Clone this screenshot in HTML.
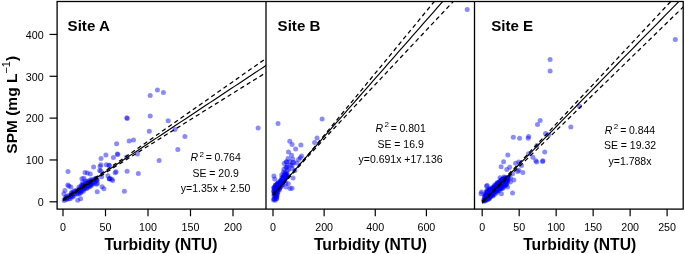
<!DOCTYPE html><html><head><meta charset="utf-8"><style>html,body{margin:0;padding:0;background:#fff;}svg{display:block;}text{font-family:"Liberation Sans",Arial,sans-serif;}</style></head><body>
<svg width="685" height="254" viewBox="0 0 685 254">
<rect width="685" height="254" fill="#fff"/>
<clipPath id="cA"><rect x="57.1" y="1.5" width="208.9" height="207.6"/></clipPath>
<g fill="#0000ff" fill-opacity="0.46" clip-path="url(#cA)">
<circle cx="150.2" cy="95.4" r="2.5"/>
<circle cx="157.4" cy="90" r="2.5"/>
<circle cx="163.4" cy="92.6" r="2.5"/>
<circle cx="126.8" cy="117.8" r="2.5"/>
<circle cx="127.2" cy="118.4" r="2.5"/>
<circle cx="150.2" cy="116.1" r="2.5"/>
<circle cx="168.2" cy="120.8" r="2.5"/>
<circle cx="149.3" cy="131.2" r="2.5"/>
<circle cx="129.2" cy="140.9" r="2.5"/>
<circle cx="133.5" cy="140.1" r="2.5"/>
<circle cx="116.6" cy="143.8" r="2.5"/>
<circle cx="105.9" cy="155.1" r="2.5"/>
<circle cx="101" cy="158.4" r="2.5"/>
<circle cx="113.4" cy="157.4" r="2.5"/>
<circle cx="117.3" cy="153.9" r="2.5"/>
<circle cx="117.8" cy="154.5" r="2.5"/>
<circle cx="137.4" cy="153.9" r="2.5"/>
<circle cx="126.6" cy="157" r="2.5"/>
<circle cx="174.9" cy="129.5" r="2.5"/>
<circle cx="177.8" cy="149.6" r="2.5"/>
<circle cx="159.1" cy="160.4" r="2.5"/>
<circle cx="108.9" cy="165.3" r="2.5"/>
<circle cx="68" cy="171.4" r="2.5"/>
<circle cx="85" cy="172.4" r="2.5"/>
<circle cx="68.8" cy="186.1" r="2.5"/>
<circle cx="184.9" cy="136.5" r="2.5"/>
<circle cx="258.1" cy="127.9" r="2.5"/>
<circle cx="100.8" cy="164.7" r="2.5"/>
<circle cx="106.3" cy="164.7" r="2.5"/>
<circle cx="109.4" cy="165.5" r="2.5"/>
<circle cx="100.8" cy="171" r="2.5"/>
<circle cx="116.1" cy="171.8" r="2.5"/>
<circle cx="127.1" cy="171.3" r="2.5"/>
<circle cx="138.3" cy="173.4" r="2.5"/>
<circle cx="107.9" cy="175.7" r="2.5"/>
<circle cx="109.4" cy="178.9" r="2.5"/>
<circle cx="110" cy="178.5" r="2.5"/>
<circle cx="111.8" cy="179.2" r="2.5"/>
<circle cx="112.6" cy="180.5" r="2.5"/>
<circle cx="124.4" cy="191.2" r="2.5"/>
<circle cx="87.4" cy="172.9" r="2.5"/>
<circle cx="90.3" cy="173.9" r="2.5"/>
<circle cx="109.2" cy="178.7" r="2.5"/>
<circle cx="115.1" cy="172.8" r="2.5"/>
<circle cx="103.9" cy="188.7" r="2.5"/>
<circle cx="81.9" cy="178.8" r="2.5"/>
<circle cx="83.9" cy="178.3" r="2.5"/>
<circle cx="67.8" cy="185" r="2.5"/>
<circle cx="70.8" cy="186.9" r="2.5"/>
<circle cx="64.9" cy="190.4" r="2.5"/>
<circle cx="63.9" cy="193.8" r="2.5"/>
<circle cx="77.7" cy="200.2" r="2.5"/>
<circle cx="80.6" cy="198.7" r="2.5"/>
<circle cx="96.3" cy="184.2" r="2.5"/>
<circle cx="97.4" cy="183.6" r="2.5"/>
<circle cx="93.6" cy="166.9" r="2.5"/>
<circle cx="100.1" cy="166.5" r="2.5"/>
<circle cx="99.7" cy="170.4" r="2.5"/>
<circle cx="101.6" cy="176.8" r="2.5"/>
<circle cx="102.1" cy="186.7" r="2.5"/>
<circle cx="90.8" cy="179.8" r="2.5"/>
<circle cx="97.2" cy="191.8" r="2.5"/>
<circle cx="95.06" cy="178.5" r="2.5"/>
<circle cx="96.21" cy="178.53" r="2.5"/>
<circle cx="92.21" cy="179.73" r="2.5"/>
<circle cx="93.46" cy="180.25" r="2.5"/>
<circle cx="95.96" cy="179.7" r="2.5"/>
<circle cx="97.07" cy="179.85" r="2.5"/>
<circle cx="85.55" cy="181.05" r="2.5"/>
<circle cx="87.15" cy="181.44" r="2.5"/>
<circle cx="89.22" cy="180.87" r="2.5"/>
<circle cx="90.63" cy="181.43" r="2.5"/>
<circle cx="92.66" cy="181.23" r="2.5"/>
<circle cx="94.49" cy="181.68" r="2.5"/>
<circle cx="96.98" cy="180.66" r="2.5"/>
<circle cx="82.81" cy="182.54" r="2.5"/>
<circle cx="85.24" cy="182.92" r="2.5"/>
<circle cx="87.15" cy="183.26" r="2.5"/>
<circle cx="87.96" cy="182.86" r="2.5"/>
<circle cx="89.73" cy="182.24" r="2.5"/>
<circle cx="91.49" cy="183.23" r="2.5"/>
<circle cx="94.15" cy="183.19" r="2.5"/>
<circle cx="81.79" cy="184.65" r="2.5"/>
<circle cx="83.42" cy="184.85" r="2.5"/>
<circle cx="85.55" cy="184.92" r="2.5"/>
<circle cx="87.99" cy="184.11" r="2.5"/>
<circle cx="89" cy="184.33" r="2.5"/>
<circle cx="90.62" cy="184.54" r="2.5"/>
<circle cx="92.35" cy="183.77" r="2.5"/>
<circle cx="81.73" cy="185.78" r="2.5"/>
<circle cx="82.77" cy="185.7" r="2.5"/>
<circle cx="84.58" cy="186.33" r="2.5"/>
<circle cx="87.07" cy="185.67" r="2.5"/>
<circle cx="88.2" cy="185.96" r="2.5"/>
<circle cx="90.29" cy="186.03" r="2.5"/>
<circle cx="91.69" cy="185.34" r="2.5"/>
<circle cx="78.97" cy="187.04" r="2.5"/>
<circle cx="80.79" cy="186.91" r="2.5"/>
<circle cx="81.88" cy="187.95" r="2.5"/>
<circle cx="84.26" cy="187.96" r="2.5"/>
<circle cx="86.11" cy="187.77" r="2.5"/>
<circle cx="87.73" cy="187.08" r="2.5"/>
<circle cx="89.22" cy="187.06" r="2.5"/>
<circle cx="79.43" cy="189.03" r="2.5"/>
<circle cx="81.38" cy="188.96" r="2.5"/>
<circle cx="83.22" cy="189.31" r="2.5"/>
<circle cx="84.49" cy="189.02" r="2.5"/>
<circle cx="86.57" cy="188.7" r="2.5"/>
<circle cx="74.56" cy="190.67" r="2.5"/>
<circle cx="77.01" cy="190.05" r="2.5"/>
<circle cx="78.72" cy="190.85" r="2.5"/>
<circle cx="80.12" cy="190.61" r="2.5"/>
<circle cx="81.7" cy="190.86" r="2.5"/>
<circle cx="83.35" cy="191.17" r="2.5"/>
<circle cx="71.9" cy="192.45" r="2.5"/>
<circle cx="73.4" cy="191.77" r="2.5"/>
<circle cx="75.73" cy="191.57" r="2.5"/>
<circle cx="77.75" cy="192.27" r="2.5"/>
<circle cx="79.8" cy="191.79" r="2.5"/>
<circle cx="80.94" cy="192.2" r="2.5"/>
<circle cx="71.33" cy="193.11" r="2.5"/>
<circle cx="73.03" cy="193.65" r="2.5"/>
<circle cx="74.67" cy="193.58" r="2.5"/>
<circle cx="77.04" cy="193.93" r="2.5"/>
<circle cx="78.49" cy="193.88" r="2.5"/>
<circle cx="80.15" cy="193.35" r="2.5"/>
<circle cx="68.59" cy="195.56" r="2.5"/>
<circle cx="70.57" cy="195.44" r="2.5"/>
<circle cx="72.36" cy="195.15" r="2.5"/>
<circle cx="74.16" cy="195.42" r="2.5"/>
<circle cx="66.36" cy="196.55" r="2.5"/>
<circle cx="67.19" cy="197.22" r="2.5"/>
<circle cx="69.53" cy="196.67" r="2.5"/>
<circle cx="71.31" cy="197.11" r="2.5"/>
<circle cx="72.7" cy="197.01" r="2.5"/>
<circle cx="65.03" cy="197.95" r="2.5"/>
<circle cx="66.37" cy="198.64" r="2.5"/>
<circle cx="68.43" cy="198.68" r="2.5"/>
<circle cx="70.09" cy="198.64" r="2.5"/>
<circle cx="64.21" cy="200.43" r="2.5"/>
<circle cx="66.49" cy="199.4" r="2.5"/>
</g>
<g clip-path="url(#cA)" fill="none" stroke="#000">
<polyline points="63,199.93 67.09,197.22 71.18,194.51 75.28,191.8 79.37,189.09 83.46,186.38 87.55,183.67 91.64,180.96 95.73,178.26 99.83,175.55 103.92,172.84 108.01,170.13 112.1,167.42 116.19,164.71 120.28,162 124.38,159.29 128.47,156.58 132.56,153.87 136.65,151.16 140.74,148.45 144.83,145.74 148.93,143.03 153.02,140.32 157.11,137.61 161.2,134.9 165.29,132.19 169.38,129.48 173.48,126.77 177.57,124.07 181.66,121.36 185.75,118.65 189.84,115.94 193.93,113.23 198.03,110.52 202.12,107.81 206.21,105.1 210.3,102.39 214.39,99.68 218.48,96.97 222.58,94.26 226.67,91.55 230.76,88.84 234.85,86.13 238.94,83.42 243.03,80.71 247.13,78 251.22,75.29 255.31,72.58 259.4,69.88 263.49,67.17 267.58,64.46 271.68,61.75 275.77,59.04 279.86,56.33 283.95,53.62 288.04,50.91 292.13,48.2 296.23,45.49 300.32,42.78 304.41,40.07 308.5,37.36" stroke-width="1.15"/>
<polyline points="63,198.93 67.09,196.22 71.18,193.51 75.28,190.8 79.37,188.09 83.46,185.38 87.55,182.67 91.64,179.96 95.73,177.25 99.83,174.51 103.92,171.74 108.01,168.95 112.1,166.15 116.19,163.33 120.28,160.5 124.38,157.66 128.47,154.82 132.56,151.97 136.65,149.12 140.74,146.26 144.83,143.4 148.93,140.54 153.02,137.68 157.11,134.82 161.2,131.95 165.29,129.08 169.38,126.22 173.48,123.35 177.57,120.48 181.66,117.61 185.75,114.74 189.84,111.87 193.93,109 198.03,106.13 202.12,103.26 206.21,100.39 210.3,97.51 214.39,94.64 218.48,91.77 222.58,88.9 226.67,86.02 230.76,83.15 234.85,80.28 238.94,77.41 243.03,74.53 247.13,71.66 251.22,68.79 255.31,65.91 259.4,63.04 263.49,60.16 267.58,57.29 271.68,54.42 275.77,51.54 279.86,48.67 283.95,45.79 288.04,42.92 292.13,40.05 296.23,37.17 300.32,34.3 304.41,31.42 308.5,28.55" stroke-width="1.25" stroke-dasharray="4.3 3.2"/>
<polyline points="63,200.93 67.09,198.22 71.18,195.51 75.28,192.8 79.37,190.09 83.46,187.38 87.55,184.67 91.64,181.96 95.73,179.26 99.83,176.59 103.92,173.93 108.01,171.3 112.1,168.69 116.19,166.09 120.28,163.5 124.38,160.92 128.47,158.34 132.56,155.77 136.65,153.2 140.74,150.64 144.83,148.08 148.93,145.52 153.02,142.96 157.11,140.41 161.2,137.86 165.29,135.3 169.38,132.75 173.48,130.2 177.57,127.65 181.66,125.1 185.75,122.55 189.84,120 193.93,117.45 198.03,114.91 202.12,112.36 206.21,109.81 210.3,107.26 214.39,104.72 218.48,102.17 222.58,99.62 226.67,97.08 230.76,94.53 234.85,91.99 238.94,89.44 243.03,86.89 247.13,84.35 251.22,81.8 255.31,79.26 259.4,76.71 263.49,74.17 267.58,71.62 271.68,69.08 275.77,66.53 279.86,63.99 283.95,61.44 288.04,58.9 292.13,56.35 296.23,53.81 300.32,51.26 304.41,48.72 308.5,46.18" stroke-width="1.25" stroke-dasharray="4.3 3.2"/>
</g>
<g stroke="#000" stroke-width="1.2">
<line x1="63" y1="209.1" x2="63" y2="216.3"/>
<line x1="105.5" y1="209.1" x2="105.5" y2="216.3"/>
<line x1="148" y1="209.1" x2="148" y2="216.3"/>
<line x1="190.5" y1="209.1" x2="190.5" y2="216.3"/>
<line x1="233" y1="209.1" x2="233" y2="216.3"/>
</g>
<g font-size="10.7" text-anchor="middle" fill="#000">
<text x="63" y="230.6">0</text>
<text x="105.5" y="230.6">50</text>
<text x="148" y="230.6">100</text>
<text x="190.5" y="230.6">150</text>
<text x="233" y="230.6">200</text>
</g>
<text x="160.9" y="250.1" font-size="15.7" font-weight="bold" text-anchor="middle">Turbidity (NTU)</text>
<text x="67.6" y="30.9" font-size="15.1" font-weight="bold">Site A</text>
<clipPath id="cB"><rect x="266" y="1.5" width="208.5" height="207.6"/></clipPath>
<g fill="#0000ff" fill-opacity="0.46" clip-path="url(#cB)">
<circle cx="278" cy="123.4" r="2.5"/>
<circle cx="322.1" cy="119.1" r="2.5"/>
<circle cx="467.2" cy="9.4" r="2.5"/>
<circle cx="317" cy="138.1" r="2.5"/>
<circle cx="314.6" cy="142.5" r="2.5"/>
<circle cx="289.8" cy="141.2" r="2.5"/>
<circle cx="292.1" cy="144.5" r="2.5"/>
<circle cx="295.6" cy="148.9" r="2.5"/>
<circle cx="300.9" cy="145.1" r="2.5"/>
<circle cx="288.5" cy="151.9" r="2.5"/>
<circle cx="291.5" cy="155.3" r="2.5"/>
<circle cx="288" cy="158.5" r="2.5"/>
<circle cx="292.7" cy="158.9" r="2.5"/>
<circle cx="300.3" cy="157.7" r="2.5"/>
<circle cx="301.5" cy="155.9" r="2.5"/>
<circle cx="298.6" cy="159.5" r="2.5"/>
<circle cx="286.2" cy="161.8" r="2.5"/>
<circle cx="289.7" cy="161.8" r="2.5"/>
<circle cx="293.9" cy="162.4" r="2.5"/>
<circle cx="296.8" cy="163" r="2.5"/>
<circle cx="287.4" cy="166" r="2.5"/>
<circle cx="292.1" cy="165.4" r="2.5"/>
<circle cx="286.9" cy="167.3" r="2.5"/>
<circle cx="284.2" cy="163.4" r="2.5"/>
<circle cx="286.7" cy="162" r="2.5"/>
<circle cx="290.6" cy="164.9" r="2.5"/>
<circle cx="292.6" cy="162.5" r="2.5"/>
<circle cx="288.6" cy="169.4" r="2.5"/>
<circle cx="285.2" cy="172.8" r="2.5"/>
<circle cx="294.9" cy="170.5" r="2.5"/>
<circle cx="292" cy="168.6" r="2.5"/>
<circle cx="288.3" cy="183.7" r="2.5"/>
<circle cx="293" cy="178" r="2.5"/>
<circle cx="286.2" cy="186.9" r="2.5"/>
<circle cx="290.1" cy="188.4" r="2.5"/>
<circle cx="283.9" cy="169.3" r="2.5"/>
<circle cx="287.3" cy="170.7" r="2.5"/>
<circle cx="285.2" cy="173.4" r="2.5"/>
<circle cx="281.8" cy="174.8" r="2.5"/>
<circle cx="285.9" cy="167.2" r="2.5"/>
<circle cx="283.5" cy="172" r="2.5"/>
<circle cx="273.9" cy="175.9" r="2.5"/>
<circle cx="274.7" cy="179" r="2.5"/>
<circle cx="285.7" cy="183" r="2.5"/>
<circle cx="292" cy="188.2" r="2.5"/>
<circle cx="286.75" cy="173.88" r="2.5"/>
<circle cx="284.99" cy="174.52" r="2.5"/>
<circle cx="286.35" cy="175" r="2.5"/>
<circle cx="287.11" cy="174.77" r="2.5"/>
<circle cx="283.38" cy="175.9" r="2.5"/>
<circle cx="285.57" cy="175.57" r="2.5"/>
<circle cx="286.1" cy="176.33" r="2.5"/>
<circle cx="283.79" cy="176.58" r="2.5"/>
<circle cx="283.94" cy="176.82" r="2.5"/>
<circle cx="285.94" cy="177.29" r="2.5"/>
<circle cx="286.64" cy="176.81" r="2.5"/>
<circle cx="281.7" cy="177.68" r="2.5"/>
<circle cx="282.65" cy="178" r="2.5"/>
<circle cx="283.87" cy="177.7" r="2.5"/>
<circle cx="285.7" cy="177.84" r="2.5"/>
<circle cx="282.05" cy="179.62" r="2.5"/>
<circle cx="283.45" cy="178.96" r="2.5"/>
<circle cx="284.41" cy="179.29" r="2.5"/>
<circle cx="285.21" cy="178.7" r="2.5"/>
<circle cx="280.51" cy="180.66" r="2.5"/>
<circle cx="281.17" cy="180.39" r="2.5"/>
<circle cx="282.65" cy="179.84" r="2.5"/>
<circle cx="283.75" cy="180.41" r="2.5"/>
<circle cx="284.77" cy="179.89" r="2.5"/>
<circle cx="280.49" cy="181.49" r="2.5"/>
<circle cx="281.55" cy="181.61" r="2.5"/>
<circle cx="282.69" cy="181.25" r="2.5"/>
<circle cx="277.52" cy="183.18" r="2.5"/>
<circle cx="278.88" cy="182.06" r="2.5"/>
<circle cx="280.14" cy="182.96" r="2.5"/>
<circle cx="281.52" cy="182.63" r="2.5"/>
<circle cx="282.38" cy="182.58" r="2.5"/>
<circle cx="277.2" cy="183.86" r="2.5"/>
<circle cx="278.38" cy="183.27" r="2.5"/>
<circle cx="279.13" cy="184.36" r="2.5"/>
<circle cx="280.18" cy="183.66" r="2.5"/>
<circle cx="281.38" cy="183.26" r="2.5"/>
<circle cx="275.29" cy="185.19" r="2.5"/>
<circle cx="275.57" cy="184.9" r="2.5"/>
<circle cx="277.61" cy="184.59" r="2.5"/>
<circle cx="279.12" cy="184.84" r="2.5"/>
<circle cx="280.19" cy="184.77" r="2.5"/>
<circle cx="281.84" cy="185.22" r="2.5"/>
<circle cx="282.64" cy="184.46" r="2.5"/>
<circle cx="275.95" cy="185.81" r="2.5"/>
<circle cx="276.99" cy="186.2" r="2.5"/>
<circle cx="278.31" cy="186.43" r="2.5"/>
<circle cx="278.97" cy="186.16" r="2.5"/>
<circle cx="280.48" cy="186.21" r="2.5"/>
<circle cx="273.94" cy="187.6" r="2.5"/>
<circle cx="274.27" cy="187.51" r="2.5"/>
<circle cx="276.37" cy="186.77" r="2.5"/>
<circle cx="277.64" cy="187.24" r="2.5"/>
<circle cx="278.28" cy="187.5" r="2.5"/>
<circle cx="279.52" cy="187.27" r="2.5"/>
<circle cx="281.17" cy="186.84" r="2.5"/>
<circle cx="273.9" cy="187.98" r="2.5"/>
<circle cx="275.4" cy="187.69" r="2.5"/>
<circle cx="276.2" cy="188.57" r="2.5"/>
<circle cx="277.61" cy="188.56" r="2.5"/>
<circle cx="279.64" cy="188.15" r="2.5"/>
<circle cx="274.52" cy="189.57" r="2.5"/>
<circle cx="276.03" cy="189.43" r="2.5"/>
<circle cx="277.85" cy="188.88" r="2.5"/>
<circle cx="279.04" cy="189.15" r="2.5"/>
<circle cx="273.83" cy="191.06" r="2.5"/>
<circle cx="274.93" cy="190.9" r="2.5"/>
<circle cx="276.56" cy="190.35" r="2.5"/>
<circle cx="277.78" cy="190.01" r="2.5"/>
<circle cx="279.25" cy="190.11" r="2.5"/>
<circle cx="273.8" cy="191.32" r="2.5"/>
<circle cx="275.12" cy="191.8" r="2.5"/>
<circle cx="275.93" cy="192.03" r="2.5"/>
<circle cx="277.16" cy="192.09" r="2.5"/>
<circle cx="274.07" cy="193.24" r="2.5"/>
<circle cx="275.02" cy="193.32" r="2.5"/>
<circle cx="276.25" cy="192.2" r="2.5"/>
<circle cx="277.82" cy="192.6" r="2.5"/>
<circle cx="274.45" cy="193.7" r="2.5"/>
<circle cx="275.75" cy="193.58" r="2.5"/>
<circle cx="277.48" cy="193.69" r="2.5"/>
<circle cx="273.88" cy="195.42" r="2.5"/>
<circle cx="275.52" cy="195.12" r="2.5"/>
<circle cx="276.75" cy="195.6" r="2.5"/>
<circle cx="274.95" cy="195.65" r="2.5"/>
<circle cx="276.62" cy="196.32" r="2.5"/>
<circle cx="276.81" cy="196.62" r="2.5"/>
<circle cx="275.25" cy="197.41" r="2.5"/>
<circle cx="273.77" cy="198.98" r="2.5"/>
<circle cx="274.42" cy="198.64" r="2.5"/>
<circle cx="276.29" cy="198.58" r="2.5"/>
<circle cx="276.79" cy="198.46" r="2.5"/>
<circle cx="273.72" cy="200.07" r="2.5"/>
<circle cx="275.26" cy="200.29" r="2.5"/>
</g>
<g clip-path="url(#cB)" fill="none" stroke="#000">
<polyline points="273,194.93 276.57,190.86 280.14,186.79 283.71,182.72 287.29,178.65 290.86,174.58 294.43,170.51 298,166.44 301.57,162.37 305.14,158.3 308.71,154.23 312.29,150.16 315.86,146.09 319.43,142.02 323,137.95 326.57,133.88 330.14,129.81 333.71,125.74 337.29,121.67 340.86,117.6 344.43,113.53 348,109.46 351.57,105.39 355.14,101.32 358.71,97.25 362.28,93.18 365.86,89.11 369.43,85.04 373,80.97 376.57,76.9 380.14,72.83 383.71,68.76 387.28,64.69 390.86,60.62 394.43,56.55 398,52.48 401.57,48.41 405.14,44.34 408.71,40.27 412.28,36.2 415.86,32.13 419.43,28.06 423,23.99 426.57,19.92 430.14,15.85 433.71,11.78 437.28,7.71 440.86,3.64 444.43,-0.43 448,-4.5 451.57,-8.57 455.14,-12.64 458.71,-16.71 462.28,-20.78 465.86,-24.85 469.43,-28.92 473,-32.99 476.57,-37.06 480.14,-41.13 483.71,-45.2 487.28,-49.27" stroke-width="1.15"/>
<polyline points="273,194.18 276.57,190.2 280.14,186.21 283.71,182.23 287.29,178.25 290.86,174.27 294.43,170.26 298,166.19 301.57,162.12 305.14,158.02 308.71,153.84 312.29,149.6 315.86,145.32 319.43,141.02 323,136.71 326.57,132.39 330.14,128.07 333.71,123.74 337.29,119.41 340.86,115.07 344.43,110.74 348,106.4 351.57,102.07 355.14,97.73 358.71,93.39 362.28,89.05 365.86,84.71 369.43,80.37 373,76.03 376.57,71.69 380.14,67.35 383.71,63.01 387.28,58.67 390.86,54.33 394.43,49.99 398,45.65 401.57,41.31 405.14,36.97 408.71,32.63 412.28,28.29 415.86,23.95 419.43,19.6 423,15.26 426.57,10.92 430.14,6.58 433.71,2.24 437.28,-2.1 440.86,-6.45 444.43,-10.79 448,-15.13 451.57,-19.47 455.14,-23.81 458.71,-28.15 462.28,-32.5 465.86,-36.84 469.43,-41.18 473,-45.52 476.57,-49.86 480.14,-54.21 483.71,-58.55 487.28,-62.89" stroke-width="1.25" stroke-dasharray="4.3 3.2"/>
<polyline points="273,195.68 276.57,191.7 280.14,187.71 283.71,183.73 287.29,179.75 290.86,175.77 294.43,171.76 298,167.69 301.57,163.62 305.14,159.58 308.71,155.62 312.29,151.72 315.86,147.86 319.43,144.02 323,140.19 326.57,136.37 330.14,132.55 333.71,128.74 337.29,124.93 340.86,121.13 344.43,117.32 348,113.52 351.57,109.71 355.14,105.91 358.71,102.11 362.28,98.31 365.86,94.51 369.43,90.71 373,86.91 376.57,83.11 380.14,79.31 383.71,75.51 387.28,71.71 390.86,67.91 394.43,64.11 398,60.31 401.57,56.51 405.14,52.71 408.71,48.91 412.28,45.12 415.86,41.32 419.43,37.52 423,33.72 426.57,29.92 430.14,26.12 433.71,22.32 437.28,18.53 440.86,14.73 444.43,10.93 448,7.13 451.57,3.33 455.14,-0.47 458.71,-4.26 462.28,-8.06 465.86,-11.86 469.43,-15.66 473,-19.46 476.57,-23.25 480.14,-27.05 483.71,-30.85 487.28,-34.65" stroke-width="1.25" stroke-dasharray="4.3 3.2"/>
</g>
<g stroke="#000" stroke-width="1.2">
<line x1="273" y1="209.1" x2="273" y2="216.3"/>
<line x1="324.13" y1="209.1" x2="324.13" y2="216.3"/>
<line x1="375.27" y1="209.1" x2="375.27" y2="216.3"/>
<line x1="426.4" y1="209.1" x2="426.4" y2="216.3"/>
</g>
<g font-size="10.7" text-anchor="middle" fill="#000">
<text x="273" y="230.6">0</text>
<text x="324.13" y="230.6">200</text>
<text x="375.27" y="230.6">400</text>
<text x="426.4" y="230.6">600</text>
</g>
<text x="370.45" y="250.1" font-size="15.7" font-weight="bold" text-anchor="middle">Turbidity (NTU)</text>
<text x="277.6" y="30.9" font-size="15.1" font-weight="bold">Site B</text>
<clipPath id="cE"><rect x="474.5" y="1.5" width="208.7" height="207.6"/></clipPath>
<g fill="#0000ff" fill-opacity="0.46" clip-path="url(#cE)">
<circle cx="675.3" cy="39.4" r="2.5"/>
<circle cx="550.1" cy="59.4" r="2.5"/>
<circle cx="550.1" cy="71.1" r="2.5"/>
<circle cx="540.2" cy="120.4" r="2.5"/>
<circle cx="537.5" cy="124.4" r="2.5"/>
<circle cx="570.8" cy="126.9" r="2.5"/>
<circle cx="579.5" cy="106.2" r="2.5"/>
<circle cx="513.3" cy="137.2" r="2.5"/>
<circle cx="519.6" cy="138.3" r="2.5"/>
<circle cx="528.6" cy="136.5" r="2.5"/>
<circle cx="528.2" cy="138.3" r="2.5"/>
<circle cx="548.7" cy="134.8" r="2.5"/>
<circle cx="545.5" cy="133.6" r="2.5"/>
<circle cx="536.9" cy="145.4" r="2.5"/>
<circle cx="544.7" cy="152" r="2.5"/>
<circle cx="507.8" cy="154.9" r="2.5"/>
<circle cx="528.6" cy="153.7" r="2.5"/>
<circle cx="532.9" cy="157.2" r="2.5"/>
<circle cx="535.7" cy="160.8" r="2.5"/>
<circle cx="542.8" cy="160.8" r="2.5"/>
<circle cx="515.6" cy="163.2" r="2.5"/>
<circle cx="521.5" cy="165.5" r="2.5"/>
<circle cx="509.7" cy="167.2" r="2.5"/>
<circle cx="536.7" cy="162" r="2.5"/>
<circle cx="542.6" cy="161.6" r="2.5"/>
<circle cx="503.6" cy="161.7" r="2.5"/>
<circle cx="501.1" cy="166.8" r="2.5"/>
<circle cx="506.8" cy="169.6" r="2.5"/>
<circle cx="500" cy="177.8" r="2.5"/>
<circle cx="503.9" cy="177" r="2.5"/>
<circle cx="486.5" cy="186.1" r="2.5"/>
<circle cx="487.2" cy="185.6" r="2.5"/>
<circle cx="481.5" cy="192.1" r="2.5"/>
<circle cx="481" cy="193.8" r="2.5"/>
<circle cx="501.4" cy="193.8" r="2.5"/>
<circle cx="518.7" cy="162.1" r="2.5"/>
<circle cx="518.7" cy="170.3" r="2.5"/>
<circle cx="522.8" cy="172.4" r="2.5"/>
<circle cx="512.5" cy="173.8" r="2.5"/>
<circle cx="510.4" cy="177.9" r="2.5"/>
<circle cx="513.8" cy="180" r="2.5"/>
<circle cx="510.4" cy="182" r="2.5"/>
<circle cx="507.6" cy="186.9" r="2.5"/>
<circle cx="512.5" cy="193.1" r="2.5"/>
<circle cx="517.6" cy="171.5" r="2.5"/>
<circle cx="507.71" cy="177.31" r="2.5"/>
<circle cx="504.62" cy="178.28" r="2.5"/>
<circle cx="505.17" cy="177.61" r="2.5"/>
<circle cx="507.22" cy="178.05" r="2.5"/>
<circle cx="508.52" cy="177.69" r="2.5"/>
<circle cx="501.51" cy="179.48" r="2.5"/>
<circle cx="502.78" cy="179.1" r="2.5"/>
<circle cx="503.02" cy="179.3" r="2.5"/>
<circle cx="504.51" cy="178.76" r="2.5"/>
<circle cx="506.4" cy="179.03" r="2.5"/>
<circle cx="507.4" cy="179.53" r="2.5"/>
<circle cx="500.92" cy="180.55" r="2.5"/>
<circle cx="501.15" cy="180.13" r="2.5"/>
<circle cx="502.73" cy="179.91" r="2.5"/>
<circle cx="504.07" cy="180.31" r="2.5"/>
<circle cx="505.65" cy="179.96" r="2.5"/>
<circle cx="506.48" cy="179.92" r="2.5"/>
<circle cx="507.7" cy="180.2" r="2.5"/>
<circle cx="499.25" cy="181.63" r="2.5"/>
<circle cx="501.19" cy="181.72" r="2.5"/>
<circle cx="502.65" cy="181.46" r="2.5"/>
<circle cx="503.88" cy="181.33" r="2.5"/>
<circle cx="504.42" cy="181.36" r="2.5"/>
<circle cx="505.61" cy="180.83" r="2.5"/>
<circle cx="507.83" cy="180.71" r="2.5"/>
<circle cx="497.45" cy="182.52" r="2.5"/>
<circle cx="499.35" cy="182.25" r="2.5"/>
<circle cx="500.19" cy="182.26" r="2.5"/>
<circle cx="501.47" cy="182.28" r="2.5"/>
<circle cx="502.45" cy="182.38" r="2.5"/>
<circle cx="504.82" cy="182.28" r="2.5"/>
<circle cx="505.85" cy="181.97" r="2.5"/>
<circle cx="507.08" cy="182.69" r="2.5"/>
<circle cx="497.08" cy="183.37" r="2.5"/>
<circle cx="498.01" cy="183.34" r="2.5"/>
<circle cx="499.49" cy="183.84" r="2.5"/>
<circle cx="500.57" cy="184.1" r="2.5"/>
<circle cx="502.28" cy="183.63" r="2.5"/>
<circle cx="503.56" cy="183.91" r="2.5"/>
<circle cx="505.29" cy="183.57" r="2.5"/>
<circle cx="506.18" cy="183.77" r="2.5"/>
<circle cx="494.66" cy="185.03" r="2.5"/>
<circle cx="496.2" cy="184.46" r="2.5"/>
<circle cx="497.85" cy="184.84" r="2.5"/>
<circle cx="498.46" cy="184.43" r="2.5"/>
<circle cx="500.27" cy="184.62" r="2.5"/>
<circle cx="501.3" cy="184.73" r="2.5"/>
<circle cx="503.5" cy="184.5" r="2.5"/>
<circle cx="504.3" cy="184.18" r="2.5"/>
<circle cx="505.28" cy="184.83" r="2.5"/>
<circle cx="506.39" cy="185.1" r="2.5"/>
<circle cx="494.11" cy="186.23" r="2.5"/>
<circle cx="495.99" cy="185.31" r="2.5"/>
<circle cx="497.62" cy="185.33" r="2.5"/>
<circle cx="498.2" cy="186.02" r="2.5"/>
<circle cx="499.82" cy="185.82" r="2.5"/>
<circle cx="501.18" cy="185.71" r="2.5"/>
<circle cx="502.07" cy="185.37" r="2.5"/>
<circle cx="503.08" cy="186.02" r="2.5"/>
<circle cx="505.21" cy="185.81" r="2.5"/>
<circle cx="493.75" cy="187.18" r="2.5"/>
<circle cx="495.53" cy="187.18" r="2.5"/>
<circle cx="496.56" cy="186.46" r="2.5"/>
<circle cx="497.63" cy="186.52" r="2.5"/>
<circle cx="499.08" cy="186.97" r="2.5"/>
<circle cx="499.99" cy="186.58" r="2.5"/>
<circle cx="501.99" cy="186.32" r="2.5"/>
<circle cx="503.31" cy="187.35" r="2.5"/>
<circle cx="490.68" cy="188.56" r="2.5"/>
<circle cx="492.37" cy="187.57" r="2.5"/>
<circle cx="493.55" cy="188.16" r="2.5"/>
<circle cx="493.96" cy="187.84" r="2.5"/>
<circle cx="495.48" cy="187.5" r="2.5"/>
<circle cx="497.15" cy="188.53" r="2.5"/>
<circle cx="498.19" cy="188.45" r="2.5"/>
<circle cx="499.93" cy="187.57" r="2.5"/>
<circle cx="501.43" cy="188.13" r="2.5"/>
<circle cx="502.81" cy="188.27" r="2.5"/>
<circle cx="488.96" cy="189.02" r="2.5"/>
<circle cx="489.57" cy="189.61" r="2.5"/>
<circle cx="491.51" cy="188.98" r="2.5"/>
<circle cx="492.4" cy="189.17" r="2.5"/>
<circle cx="493.97" cy="188.8" r="2.5"/>
<circle cx="494.55" cy="188.79" r="2.5"/>
<circle cx="496.79" cy="188.71" r="2.5"/>
<circle cx="497.7" cy="188.77" r="2.5"/>
<circle cx="498.7" cy="188.74" r="2.5"/>
<circle cx="500.23" cy="188.74" r="2.5"/>
<circle cx="501.08" cy="188.67" r="2.5"/>
<circle cx="486.97" cy="189.99" r="2.5"/>
<circle cx="488.35" cy="190.22" r="2.5"/>
<circle cx="489.82" cy="190.02" r="2.5"/>
<circle cx="490.3" cy="189.98" r="2.5"/>
<circle cx="492.28" cy="190.42" r="2.5"/>
<circle cx="493.01" cy="189.77" r="2.5"/>
<circle cx="494.72" cy="190.82" r="2.5"/>
<circle cx="495.91" cy="189.67" r="2.5"/>
<circle cx="496.54" cy="189.77" r="2.5"/>
<circle cx="498" cy="189.71" r="2.5"/>
<circle cx="499.16" cy="190.45" r="2.5"/>
<circle cx="486.34" cy="191.67" r="2.5"/>
<circle cx="487.75" cy="191.45" r="2.5"/>
<circle cx="489.16" cy="191.22" r="2.5"/>
<circle cx="489.85" cy="191.06" r="2.5"/>
<circle cx="491.59" cy="191.36" r="2.5"/>
<circle cx="492.27" cy="190.99" r="2.5"/>
<circle cx="494.11" cy="191.51" r="2.5"/>
<circle cx="495.4" cy="191.25" r="2.5"/>
<circle cx="496.43" cy="190.97" r="2.5"/>
<circle cx="498" cy="190.81" r="2.5"/>
<circle cx="486.8" cy="191.93" r="2.5"/>
<circle cx="487.68" cy="193.07" r="2.5"/>
<circle cx="488.96" cy="192.59" r="2.5"/>
<circle cx="490.5" cy="192.85" r="2.5"/>
<circle cx="492.03" cy="192.86" r="2.5"/>
<circle cx="493.24" cy="192.14" r="2.5"/>
<circle cx="494.11" cy="192.01" r="2.5"/>
<circle cx="496.19" cy="192.05" r="2.5"/>
<circle cx="496.53" cy="193.07" r="2.5"/>
<circle cx="485.54" cy="193.7" r="2.5"/>
<circle cx="487.63" cy="193.55" r="2.5"/>
<circle cx="488.83" cy="193.77" r="2.5"/>
<circle cx="489.61" cy="193.46" r="2.5"/>
<circle cx="491.84" cy="193.44" r="2.5"/>
<circle cx="492.47" cy="193.14" r="2.5"/>
<circle cx="493.51" cy="193.24" r="2.5"/>
<circle cx="485.7" cy="194.51" r="2.5"/>
<circle cx="486.22" cy="194.52" r="2.5"/>
<circle cx="487.89" cy="194.26" r="2.5"/>
<circle cx="488.88" cy="195.08" r="2.5"/>
<circle cx="490.84" cy="195.34" r="2.5"/>
<circle cx="492.48" cy="195.22" r="2.5"/>
<circle cx="493.05" cy="194.36" r="2.5"/>
<circle cx="494.27" cy="194.72" r="2.5"/>
<circle cx="484.67" cy="195.7" r="2.5"/>
<circle cx="485.51" cy="195.95" r="2.5"/>
<circle cx="486.86" cy="195.66" r="2.5"/>
<circle cx="488.35" cy="196.25" r="2.5"/>
<circle cx="489.85" cy="195.6" r="2.5"/>
<circle cx="490.7" cy="195.81" r="2.5"/>
<circle cx="492.7" cy="196.1" r="2.5"/>
<circle cx="484.46" cy="196.96" r="2.5"/>
<circle cx="485.95" cy="196.6" r="2.5"/>
<circle cx="486.48" cy="197.04" r="2.5"/>
<circle cx="487.89" cy="197.44" r="2.5"/>
<circle cx="489.69" cy="197.53" r="2.5"/>
<circle cx="490.73" cy="196.45" r="2.5"/>
<circle cx="484.78" cy="198.43" r="2.5"/>
<circle cx="486.46" cy="198.3" r="2.5"/>
<circle cx="487.73" cy="197.55" r="2.5"/>
<circle cx="488.39" cy="198.7" r="2.5"/>
<circle cx="489.43" cy="197.86" r="2.5"/>
<circle cx="484.63" cy="199.86" r="2.5"/>
<circle cx="485.98" cy="198.96" r="2.5"/>
<circle cx="486.53" cy="199.81" r="2.5"/>
<circle cx="487.98" cy="199.51" r="2.5"/>
<circle cx="489.08" cy="198.69" r="2.5"/>
<circle cx="483.5" cy="200.32" r="2.5"/>
<circle cx="484.33" cy="200.51" r="2.5"/>
<circle cx="485.84" cy="200.4" r="2.5"/>
<circle cx="484.35" cy="201.35" r="2.5"/>
</g>
<g clip-path="url(#cE)" fill="none" stroke="#000">
<polyline points="482.2,202.19 486.17,198.14 490.13,194.09 494.1,190.04 498.07,186 502.03,181.95 506,177.9 509.96,173.85 513.93,169.8 517.9,165.75 521.86,161.7 525.83,157.65 529.8,153.6 533.76,149.55 537.73,145.5 541.7,141.45 545.66,137.4 549.63,133.36 553.59,129.31 557.56,125.26 561.53,121.21 565.49,117.16 569.46,113.11 573.43,109.06 577.39,105.01 581.36,100.96 585.32,96.91 589.29,92.86 593.26,88.81 597.22,84.76 601.19,80.72 605.16,76.67 609.12,72.62 613.09,68.57 617.06,64.52 621.02,60.47 624.99,56.42 628.95,52.37 632.92,48.32 636.89,44.27 640.85,40.22 644.82,36.17 648.79,32.12 652.75,28.08 656.72,24.03 660.69,19.98 664.65,15.93 668.62,11.88 672.58,7.83 676.55,3.78 680.52,-0.27 684.48,-4.32 688.45,-8.37 692.42,-12.42 696.38,-16.47 700.35,-20.52 704.31,-24.56 708.28,-28.61 712.25,-32.66 716.21,-36.71 720.18,-40.76" stroke-width="1.15"/>
<polyline points="482.2,201.19 486.17,197.18 490.13,193.17 494.1,189.14 498.07,185.08 502.03,180.98 506,176.86 509.96,172.73 513.93,168.58 517.9,164.42 521.86,160.25 525.83,156.08 529.8,151.9 533.76,147.72 537.73,143.54 541.7,139.35 545.66,135.12 549.63,130.89 553.59,126.66 557.56,122.43 561.53,118.19 565.49,113.96 569.46,109.73 573.43,105.49 577.39,101.26 581.36,97.02 585.32,92.78 589.29,88.55 593.26,84.31 597.22,80.07 601.19,75.84 605.16,71.6 609.12,67.36 613.09,63.12 617.06,58.89 621.02,54.65 624.99,50.41 628.95,46.17 632.92,41.93 636.89,37.69 640.85,33.45 644.82,29.21 648.79,24.98 652.75,20.74 656.72,16.5 660.69,12.26 664.65,8.02 668.62,3.78 672.58,-0.46 676.55,-4.7 680.52,-8.94 684.48,-13.18 688.45,-17.42 692.42,-21.66 696.38,-25.9 700.35,-30.14 704.31,-34.38 708.28,-38.62 712.25,-42.86 716.21,-47.1 720.18,-51.34" stroke-width="1.25" stroke-dasharray="4.3 3.2"/>
<polyline points="482.2,203.19 486.17,199.18 490.13,195.17 494.1,191.19 498.07,187.24 502.03,183.31 506,179.41 509.96,175.53 513.93,171.66 517.9,167.8 521.86,163.95 525.83,160.11 529.8,156.27 533.76,152.43 537.73,148.6 541.7,144.76 545.66,140.89 549.63,137.02 553.59,133.15 557.56,129.29 561.53,125.42 565.49,121.56 569.46,117.69 573.43,113.83 577.39,109.96 581.36,106.1 585.32,102.24 589.29,98.38 593.26,94.52 597.22,90.65 601.19,86.79 605.16,82.93 609.12,79.07 613.09,75.21 617.06,71.35 621.02,67.49 624.99,63.63 628.95,59.77 632.92,55.91 636.89,52.05 640.85,48.19 644.82,44.33 648.79,40.47 652.75,36.61 656.72,32.75 660.69,28.9 664.65,25.04 668.62,21.18 672.58,17.32 676.55,13.46 680.52,9.6 684.48,5.74 688.45,1.88 692.42,-1.98 696.38,-5.83 700.35,-9.69 704.31,-13.55 708.28,-17.41 712.25,-21.27 716.21,-25.13 720.18,-28.99" stroke-width="1.25" stroke-dasharray="4.3 3.2"/>
</g>
<g stroke="#000" stroke-width="1.2">
<line x1="482.2" y1="209.1" x2="482.2" y2="216.3"/>
<line x1="519.18" y1="209.1" x2="519.18" y2="216.3"/>
<line x1="556.16" y1="209.1" x2="556.16" y2="216.3"/>
<line x1="593.14" y1="209.1" x2="593.14" y2="216.3"/>
<line x1="630.12" y1="209.1" x2="630.12" y2="216.3"/>
<line x1="667.1" y1="209.1" x2="667.1" y2="216.3"/>
</g>
<g font-size="10.7" text-anchor="middle" fill="#000">
<text x="482.2" y="230.6">0</text>
<text x="519.18" y="230.6">50</text>
<text x="556.16" y="230.6">100</text>
<text x="593.14" y="230.6">150</text>
<text x="630.12" y="230.6">200</text>
<text x="667.1" y="230.6">250</text>
</g>
<text x="579.7" y="250.1" font-size="15.7" font-weight="bold" text-anchor="middle">Turbidity (NTU)</text>
<text x="491.2" y="30.9" font-size="15.1" font-weight="bold">Site E</text>
<g fill="none" stroke="#000" stroke-width="1.3">
<rect x="57.1" y="1.5" width="626.1" height="207.6"/>
<line x1="266" y1="1.5" x2="266" y2="209.1"/>
<line x1="474.5" y1="1.5" x2="474.5" y2="209.1"/>
</g>
<g stroke="#000" stroke-width="1.2">
<line x1="49.5" y1="201.8" x2="57.1" y2="201.8"/>
<line x1="49.5" y1="159.96" x2="57.1" y2="159.96"/>
<line x1="49.5" y1="118.12" x2="57.1" y2="118.12"/>
<line x1="49.5" y1="76.28" x2="57.1" y2="76.28"/>
<line x1="49.5" y1="34.44" x2="57.1" y2="34.44"/>
</g>
<g font-size="10.7" text-anchor="end" fill="#000">
<text x="43.6" y="206.1">0</text>
<text x="43.6" y="164.26">100</text>
<text x="43.6" y="122.42">200</text>
<text x="43.6" y="80.58">300</text>
<text x="43.6" y="38.74">400</text>
</g>
<text transform="translate(16.7,104.8) rotate(-90)" font-size="15.5" font-weight="bold" text-anchor="middle">SPM (mg L<tspan font-size="11" font-weight="normal" dy="-7">−1</tspan><tspan dy="7">)</tspan></text>
<text x="215.6" y="161.1" font-size="10.5" text-anchor="middle"><tspan font-style="italic">R</tspan><tspan font-size="8" dx="1.4" dy="-4.6">2</tspan><tspan dy="4.6" dx="-0.9"> =</tspan><tspan dx="-0.4"> 0.764</tspan></text>
<text x="215.6" y="176.7" font-size="10.5" text-anchor="middle">SE = 20.9</text>
<text x="215.6" y="192.3" font-size="10.5" text-anchor="middle">y=1.35x + 2.50</text>
<text x="400.6" y="132" font-size="10.5" text-anchor="middle"><tspan font-style="italic">R</tspan><tspan font-size="8" dx="1.4" dy="-4.6">2</tspan><tspan dy="4.6" dx="-0.9"> =</tspan><tspan dx="-0.4"> 0.801</tspan></text>
<text x="400.6" y="147.6" font-size="10.5" text-anchor="middle">SE = 16.9</text>
<text x="400.6" y="163.2" font-size="10.5" text-anchor="middle">y=0.691x +17.136</text>
<text x="630" y="133.6" font-size="10.5" text-anchor="middle"><tspan font-style="italic">R</tspan><tspan font-size="8" dx="1.4" dy="-4.6">2</tspan><tspan dy="4.6" dx="-0.9"> =</tspan><tspan dx="-0.4"> 0.844</tspan></text>
<text x="630" y="149.2" font-size="10.5" text-anchor="middle">SE = 19.32</text>
<text x="630" y="164.8" font-size="10.5" text-anchor="middle">y=1.788x</text>
</svg></body></html>
